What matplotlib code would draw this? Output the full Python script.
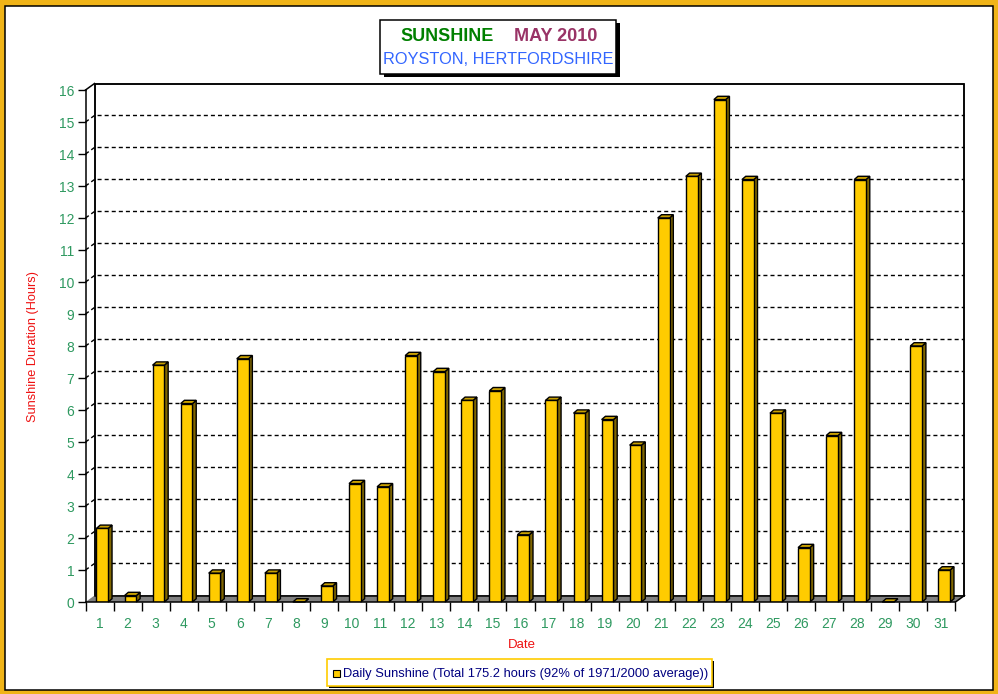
import matplotlib
matplotlib.use("Agg")
import matplotlib.pyplot as plt
from matplotlib.patches import Polygon, Rectangle
import numpy as np

plt.rcParams['font.family'] = ['Liberation Sans', 'DejaVu Sans']

# ---- data ----
days = list(range(1, 32))
sunshine = [2.3, 0.2, 7.4, 6.2, 0.9, 7.6, 0.9, 0.0, 0.5, 3.7,
            3.6, 7.7, 7.2, 6.3, 6.6, 2.1, 6.3, 5.9, 5.7, 4.9,
            12.0, 13.3, 15.7, 13.2, 5.9, 1.7, 5.2, 13.2, 0.0, 8.0, 1.0]
y_ticks = list(range(0, 17))
title_1a = "SUNSHINE"
title_1b = "MAY 2010"
title_2 = "ROYSTON, HERTFORDSHIRE"
x_label = "Date"
y_label = "Sunshine Duration (Hours)"
legend_label = "Daily Sunshine (Total 175.2 hours (92% of 1971/2000 average))"

W, H = 998, 694
fig = plt.figure(figsize=(W / 100, H / 100), dpi=100)
fig.patch.set_facecolor('#F0B418')

# overlay in pixel coordinates for frame/decoration
ov = fig.add_axes([0, 0, 1, 1])
ov.set_xlim(0, W)
ov.set_ylim(H, 0)
ov.axis('off')
ov.add_patch(Rectangle((5.5, 5.5), 987.5, 684, facecolor='white', edgecolor='black', lw=1.1, zorder=0))

# main axes (front plane)
x0p, x1p = 85.5, 955.5
y0p, y1p = 602, 90
ax = fig.add_axes([x0p / W, (H - y0p) / H, (x1p - x0p) / W, (y0p - y1p) / H])
ax.set_xlim(0.5, 31.5)
ax.set_ylim(0, 16)
ax.patch.set_alpha(0)
for s in ['top', 'right']:
    ax.spines[s].set_visible(False)
for s in ['left', 'bottom']:
    ax.spines[s].set_linewidth(1.1)
    ax.spines[s].set_zorder(20)

pxx = (x1p - x0p) / 31.0   # px per x unit
pxy = (y0p - y1p) / 16.0   # px per y unit
wdx, wdy = 9 / pxx, 6.5 / pxy       # wall depth
bdx, bdy = 3.8 / pxx, 3.3 / pxy     # bar depth

xl, xr = 0.5, 31.5
# floor
ax.add_patch(Polygon([(xl, 0), (xr, 0), (xr + wdx, wdy), (xl + wdx, wdy)],
                     closed=True, facecolor='#808080', edgecolor='none', zorder=1, clip_on=False))
# back wall
ax.add_patch(Rectangle((xl + wdx, wdy), xr - xl, 16, facecolor='white', edgecolor='black',
                       lw=1.1, zorder=0.5, clip_on=False))
ax.add_patch(Polygon([(xl + wdx, wdy), (xr + wdx, wdy), (xr + wdx, 16 + wdy), (xl + wdx, 16 + wdy)],
                     closed=True, fill=False, edgecolor='black', lw=1.1, zorder=1.5, clip_on=False))
# wall edges
ax.plot([xl, xl + wdx], [16, 16 + wdy], color='black', lw=1.1, zorder=2, clip_on=False)
ax.plot([xr, xr + wdx], [0, wdy], color='black', lw=1.1, zorder=2, clip_on=False)
# grid lines
for v in y_ticks[1:-1]:
    ax.plot([xl, xl + wdx, xr + wdx], [v, v + wdy, v + wdy], color='black', lw=1.0,
            linestyle=(0, (2.9, 2.2)), zorder=1.2, clip_on=False)

# bars
bw = 0.42
boff = 0.1
for d, v in zip(days, sunshine):
    left = d + boff - bw / 2
    right = left + bw
    ax.bar(d + boff, v, width=bw, color='#FFCC00', edgecolor='black', lw=1.0, zorder=5)
    ax.add_patch(Polygon([(right, 0), (right + bdx, bdy), (right + bdx, v + bdy), (right, v)],
                         closed=True, facecolor='#806600', edgecolor='black', lw=1.0, zorder=4, clip_on=False))
    ax.add_patch(Polygon([(left, v), (right, v), (right + bdx, v + bdy), (left + bdx, v + bdy)],
                         closed=True, facecolor='#C8A000', edgecolor='black', lw=1.0, zorder=4, clip_on=False))

tick_green = '#2E9960'
ax.set_yticks(y_ticks)
ax.set_yticklabels([str(t) for t in y_ticks])
ax.tick_params(axis='y', length=5.76, width=1.0, pad=2.2, labelcolor=tick_green, labelsize=10)
ax.set_xticks(days)
ax.set_xticklabels([str(d) for d in days])
ax.set_xticks(np.arange(0.5, 32, 1.0), minor=True)
ax.tick_params(axis='x', which='major', length=0, pad=10.5, labelcolor=tick_green, labelsize=10)
ax.tick_params(axis='x', which='minor', length=6.2, width=1.0)

# axis labels
ov.text(33, 346, y_label, rotation=90, ha='center', va='center', color='#EE1111', fontsize=9.2)
ov.text(522, 645, x_label, ha='center', va='center', color='#EE1111', fontsize=9.5)

# title box
ov.add_patch(Rectangle((384, 23), 236, 54, facecolor='black', edgecolor='none', zorder=1))
ov.add_patch(Rectangle((380, 19.5), 236, 54, facecolor='white', edgecolor='black', lw=1.1, zorder=2))
ov.text(447, 36, title_1a, ha='center', va='center', color='#008000', fontsize=13, fontweight='bold', zorder=3)
ov.text(555.5, 36, title_1b, ha='center', va='center', color='#993366', fontsize=13, fontweight='bold', zorder=3)
ov.text(498, 59, title_2, ha='center', va='center', color='#3366FF', fontsize=11.8, zorder=3)

# legend
ov.add_patch(Rectangle((329, 661), 385, 27, facecolor='black', edgecolor='none', zorder=1))
ov.add_patch(Rectangle((327, 659), 385, 27, facecolor='white', edgecolor='#FFCC00', lw=1.2, zorder=2))
ov.add_patch(Rectangle((333, 670), 7, 7, facecolor='#FFCC00', edgecolor='black', lw=0.8, zorder=3))
ov.text(343, 674, legend_label, ha='left', va='center', color='#000080', fontsize=9.3, zorder=3)

fig.savefig('out.png', dpi=100, facecolor=fig.get_facecolor())
